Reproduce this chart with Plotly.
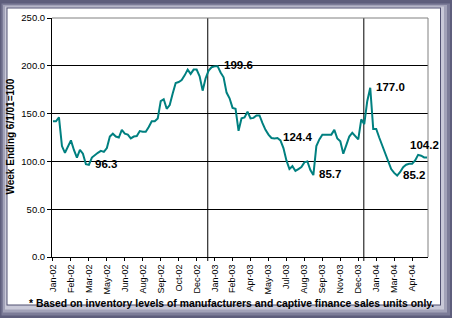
import pandas as pd
import plotly.graph_objects as go

# Weekly index values (Week Ending 6/1/01 = 100), first week ending 2002-01-04
start_date = "2002-01-04"
index_values = [
    142, 142, 146, 116, 109, 116, 122, 112, 104, 112,
    108, 97, 96.3, 104, 107, 109, 111, 110, 114, 126,
    129, 126, 125, 133, 129, 128, 124, 126, 126.5, 131.7,
    131, 131, 136, 142, 142, 145, 163, 165, 155, 159,
    171, 182, 183, 185, 190, 196, 191.5, 196, 196, 189,
    174, 187, 195, 198.5, 199.4, 199.6, 193, 188, 172, 166,
    156, 155, 132, 145, 146, 152, 145, 145.5, 148, 148,
    140, 133, 128, 124.5, 124, 124.4, 122, 114, 101, 92,
    95, 90, 92, 94, 99, 100, 91, 85.7, 116, 123,
    128, 128, 128, 128, 133, 124, 121, 108, 117, 126,
    130, 126, 123, 144, 139, 163, 177.0, 134, 134, 125,
    117, 107, 99, 92, 88, 85.2, 89, 94, 96.5, 97.5,
    97.5, 101, 106.8, 106, 104.2, 104.2,
]
# indices of the labelled points
label_points = [12, 55, 75, 87, 106, 115, 125]
year_breaks = ["2003-01-01", "2004-01-01"]
footnote = "* Based on inventory levels of manufacturers and captive finance sales units only."
y_title = "Week Ending 6/1/01=100"

dates = pd.date_range(start_date, periods=len(index_values), freq="7D")
tick_dates = dates[::6]
tick_text = [d.strftime("%b-%y") for d in tick_dates]

W, H = 452, 318
L, R, T, B = 52, 24, 16, 61
PW, PH = W - L - R, H - T - B

def px(xp):
    return (xp - L) / PW

def py(yp):
    return (H - B - yp) / PH

fig = go.Figure()
fig.add_trace(go.Scatter(
    x=dates, y=index_values, mode="lines",
    line=dict(color="#008080", width=2), hoverinfo="skip", showlegend=False,
))

shapes = []
# frame (bevel approximation)
frame = [(0, 0, W, H, "#5e5e7c"), (1.5, 1.5, W - 2, H - 2, "#7c7c98"),
         (3, 3, W - 5, H - 5, "#a2a2b8"), (5, 4.5, W - 8, H - 8, "#c9c9d8"),
         (6.5, 5.5, W - 11, H - 12, "#505070"), (7.5, 6.5, W - 12, H - 13, "white")]
for x0, y0, x1, y1, c in frame:
    shapes.append(dict(type="rect", xref="paper", yref="paper", layer="below",
                       x0=px(x0), x1=px(x1), y0=py(y0), y1=py(y1),
                       fillcolor=c, line=dict(width=0)))
# year separators
for d in year_breaks:
    shapes.append(dict(type="line", xref="x", yref="paper", layer="between",
                       x0=d, x1=d, y0=py(261), y1=1, line=dict(color="black", width=1)))
# gray top and right border of plot area
shapes.append(dict(type="line", xref="paper", yref="paper", layer="above",
                   x0=0, x1=1, y0=1, y1=1, line=dict(color="#808080", width=1)))
shapes.append(dict(type="line", xref="paper", yref="paper", layer="above",
                   x0=1, x1=1, y0=0, y1=1, line=dict(color="#808080", width=1)))

annotations = []
for i in label_points:
    v = index_values[i]
    if i == len(index_values) - 1:
        annotations.append(dict(x=dates[i], y=v, xref="x", yref="y", text=f"{v:.1f}",
                                showarrow=False, xanchor="center", yanchor="bottom",
                                xshift=-3, yshift=4,
                                font=dict(family="Arial, Liberation Sans", size=11.5, color="black", weight="bold")))
    else:
        annotations.append(dict(x=dates[i], y=v, xref="x", yref="y", text=f"{v:.1f}",
                                showarrow=False, xanchor="left", yanchor="middle",
                                xshift=4, yshift=1,
                                font=dict(family="Arial, Liberation Sans", size=11.5, color="black", weight="bold")))
annotations.append(dict(x=px(11), y=py(135.5), xref="paper", yref="paper", text=y_title,
                        textangle=-90, showarrow=False, xanchor="center", yanchor="middle",
                        font=dict(family="Arial, Liberation Sans", size=10, color="black", weight="bold")))
annotations.append(dict(x=px(231), y=py(304), xref="paper", yref="paper", text=footnote,
                        showarrow=False, xanchor="center", yanchor="middle",
                        font=dict(family="Arial, Liberation Sans", size=10.4, color="black", weight="bold")))

x0 = dates[0] - pd.Timedelta(days=2.3)
x1 = dates[0] + pd.Timedelta(days=7 * 125.3)

fig.update_layout(
    width=W, height=H,
    margin=dict(l=L, r=R, t=T, b=B, pad=0),
    paper_bgcolor="#5e5e7c", plot_bgcolor="white",
    shapes=shapes, annotations=annotations,
    font=dict(family="Arial, Liberation Sans", color="black"),
    xaxis=dict(range=[x0, x1], tickvals=tick_dates, ticktext=tick_text, tickangle=-90,
               tickfont=dict(size=9), ticks="outside", ticklen=3, tickcolor="black",
               showgrid=False, showline=True, linecolor="black", linewidth=1,
               zeroline=False, fixedrange=True),
    yaxis=dict(range=[0, 250], dtick=50, tickformat=".1f", tickfont=dict(size=9.5),
               ticks="outside", ticklen=4, tickcolor="black",
               showgrid=True, gridcolor="black", gridwidth=1,
               showline=True, linecolor="black", linewidth=1, zeroline=False, fixedrange=True),
)

fig.write_html("out.html")
